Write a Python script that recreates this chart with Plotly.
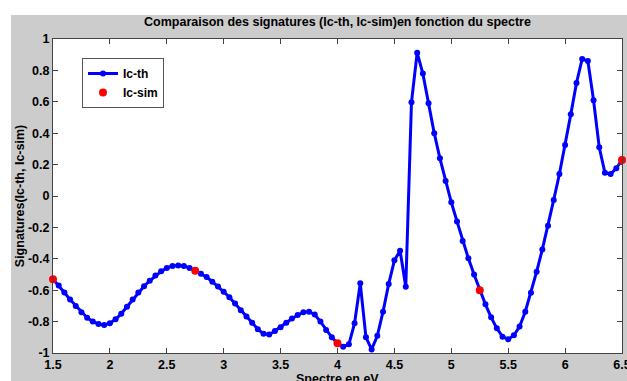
import plotly.graph_objects as go

energy = [1.5 + 0.05 * i for i in range(101)]
ic_th = [
    -0.53, -0.57, -0.615, -0.66, -0.70, -0.74, -0.775, -0.80, -0.815, -0.822,
    -0.81, -0.785, -0.75, -0.705, -0.66, -0.615, -0.575, -0.54, -0.507, -0.48,
    -0.458, -0.446, -0.443, -0.446, -0.458, -0.476, -0.495, -0.516, -0.546, -0.576,
    -0.61, -0.645, -0.685, -0.727, -0.768, -0.808, -0.848, -0.878, -0.882, -0.86,
    -0.836, -0.807, -0.78, -0.758, -0.74, -0.737, -0.755, -0.80, -0.853, -0.90,
    -0.938, -0.96, -0.945, -0.81, -0.556, -0.90, -0.977, -0.89, -0.737, -0.56,
    -0.41, -0.348, -0.578, 0.597, 0.913, 0.78, 0.59, 0.40, 0.24, 0.096,
    -0.04, -0.162, -0.286, -0.397, -0.50, -0.60, -0.69, -0.773, -0.843, -0.896,
    -0.913, -0.887, -0.832, -0.737, -0.616, -0.482, -0.34, -0.19, -0.025, 0.14,
    0.325, 0.52, 0.72, 0.873, 0.86, 0.61, 0.31, 0.148, 0.14, 0.176,
    0.23,
]
sim_energy = [1.5, 2.75, 4.0, 5.25, 6.5]
ic_sim = [-0.53, -0.476, -0.938, -0.60, 0.23]

x_ticks = [1.5, 2, 2.5, 3, 3.5, 4, 4.5, 5, 5.5, 6, 6.5]
x_tick_labels = ["1.5", "2", "2.5", "3", "3.5", "4", "4.5", "5", "5.5", "6", "6.5"]
y_ticks = [-1, -0.8, -0.6, -0.4, -0.2, 0, 0.2, 0.4, 0.6, 0.8, 1]
y_tick_labels = ["-1", "-0.8", "-0.6", "-0.4", "-0.2", "0", "0.2", "0.4", "0.6", "0.8", "1"]

FONT = "Liberation Sans, Arial, sans-serif"

fig = go.Figure()
fig.add_trace(go.Scatter(
    x=energy, y=ic_th, mode="lines+markers", name="Ic-th",
    line=dict(color="#0000ff", width=3),
    marker=dict(color="#0000ff", size=6, symbol="circle"),
    cliponaxis=False,
))
fig.add_trace(go.Scatter(
    x=sim_energy, y=ic_sim, mode="markers", name="Ic-sim",
    marker=dict(color="#ff0000", size=8, symbol="circle"),
    cliponaxis=False,
))

W, H = 627, 381
L, R, T, B = 53, 5, 39, 28
pw, ph = W - L - R, H - T - B
gray = "#cccccc"

fig.update_layout(
    width=W, height=H,
    margin=dict(l=L, r=R, t=T, b=B, pad=0, autoexpand=False),
    paper_bgcolor=gray,
    plot_bgcolor="white",
    font=dict(family=FONT, size=12, color="black", weight="bold"),
    title=dict(
        text="Comparaison des signatures (Ic-th, Ic-sim)en fonction du spectre",
        x=(L + pw / 2) / W, xanchor="center",
        y=1 - 22 / H, yanchor="middle",
        font=dict(family=FONT, size=12.5, color="black", weight="bold"),
    ),
    showlegend=True,
    legend=dict(
        x=(82 - L) / pw, y=1 - (58 - T) / ph, xanchor="left", yanchor="top",
        bgcolor="white", bordercolor="#555555", borderwidth=1,
        font=dict(family=FONT, size=12, color="black", weight="bold"),
        itemwidth=30, tracegroupgap=0,
    ),
    shapes=[
        dict(type="rect", xref="paper", yref="paper",
             x0=-0.3, x1=(11 - L) / pw, y0=-0.3, y1=1.3,
             fillcolor="white", line=dict(width=0), layer="below"),
        dict(type="rect", xref="paper", yref="paper",
             x0=-0.3, x1=1.3, y0=1 + (T - 15) / ph, y1=1.3,
             fillcolor="white", line=dict(width=0), layer="below"),
    ],
    annotations=[
        dict(text="Spectre en eV", xref="paper", yref="paper",
             x=0.5, y=-(379 - (T + ph)) / ph, xanchor="center", yanchor="middle",
             showarrow=False,
             font=dict(family=FONT, size=12.5, color="black", weight="bold")),
    ],
)

fig.update_xaxes(
    range=[1.5, 6.5], tickvals=x_ticks, ticktext=x_tick_labels,
    automargin=False, ticklabeloverflow="allow",
    showgrid=False, zeroline=False,
    showline=True, linecolor="#444444", linewidth=1, mirror="ticks",
    ticks="inside", ticklen=5, tickcolor="#444444",
    tickfont=dict(family=FONT, size=12.5, color="black", weight="bold"),
)
fig.update_yaxes(
    range=[-1, 1], tickvals=y_ticks, ticktext=y_tick_labels,
    automargin=False, ticklabeloverflow="allow",
    showgrid=False, zeroline=False,
    showline=True, linecolor="#444444", linewidth=1, mirror="ticks",
    ticks="inside", ticklen=5, tickcolor="#444444",
    tickfont=dict(family=FONT, size=12.5, color="black", weight="bold"),
    title=dict(text="Signatures(Ic-th, Ic-sim)", standoff=0,
               font=dict(family=FONT, size=12.5, color="black", weight="bold")),
)

fig.write_html("out.html")
